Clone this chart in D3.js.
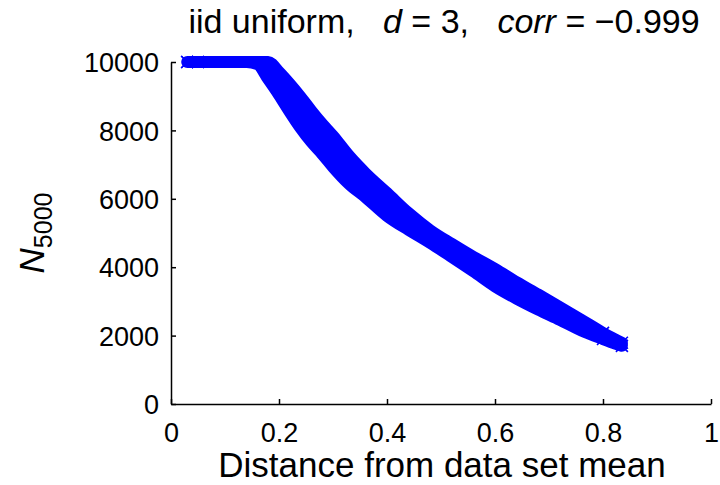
<!DOCTYPE html>
<html><head><meta charset="utf-8">
<script src="https://cdn.jsdelivr.net/npm/d3@7"></script>
<style>
html,body{margin:0;padding:0;background:#fff;}
svg{display:block;font-family:"Liberation Sans",Arial,Helvetica,sans-serif;}
</style></head>
<body>
<svg id="chart" width="720" height="485"></svg>
<script>
// distance from data set mean (x)
const distance = [0.03,0.05,0.08,0.11,0.14,0.16,0.18,0.20,0.22,0.24,0.26,0.28,0.30,0.33,0.36,0.40,0.44,0.48,0.52,0.56,0.60,0.64,0.68,0.72,0.76,0.80,0.835];
// upper envelope of the N_5000 point cloud
const nUpper = [10000,10000,10000,10000,10000,10000,10000,9710,9360,8980,8570,8190,7840,7250,6750,6170,5580,5080,4680,4300,3950,3560,3200,2830,2460,2080,1790];
// lower envelope of the N_5000 point cloud
const nLower = [10000,10000,10000,10000,10000,9940,9500,9040,8540,8070,7660,7310,6930,6430,6050,5500,5090,4710,4300,3880,3440,3080,2760,2460,2150,1900,1700];
const xTicks = [0,0.2,0.4,0.6,0.8,1];
const xTickLabels = ["0","0.2","0.4","0.6","0.8","1"];
const yTicks = [0,2000,4000,6000,8000,10000];
const yTickLabels = ["0","2000","4000","6000","8000","10000"];

const svg = d3.select("#chart");
const m = {left:171, right:9, top:62, bottom:81};
const W = 720, H = 485;
const x = d3.scaleLinear().domain([0,1]).range([m.left, W-m.right]);
const y = d3.scaleLinear().domain([0,10000]).range([H-m.bottom, m.top]);
const blue = "#0000ff";

const pts = distance.map((d,i)=>({x:d, hi:nUpper[i], lo:nLower[i]}));

// filled band (stroke width approximates the marker extent)
const area = d3.area().x(d=>x(d.x)).y0(d=>y(d.lo)).y1(d=>y(d.hi)).curve(d3.curveMonotoneX);
svg.append("path").datum(pts).attr("d", area)
  .attr("fill", blue).attr("stroke", blue).attr("stroke-width", 12).attr("stroke-linejoin","round");

// individual x markers visible at both ends of the cloud
const mk = "M-6,-6L6,6M-6,6L6,-6";
const ends = pts.filter((d,i)=> i<2 || i>=pts.length-2);
const g = svg.append("g");
["hi","lo"].forEach(k=>{
  g.selectAll(null).data(ends).enter().append("path")
    .attr("d", mk)
    .attr("transform", d=>`translate(${x(d.x)},${y(d[k])})`)
    .attr("stroke", blue).attr("stroke-width", 1.6).attr("fill","none");
});

// axes (MATLAB style, ticks inward, box off)
const xAxis = d3.axisBottom(x).tickValues(xTicks).tickFormat((d,i)=>xTickLabels[i]).tickSizeInner(-5).tickSizeOuter(0).tickPadding(12);
const yAxis = d3.axisLeft(y).tickValues(yTicks).tickFormat((d,i)=>yTickLabels[i]).tickSizeInner(-5).tickSizeOuter(0).tickPadding(12);
const gx = svg.append("g").attr("transform",`translate(0,${H-m.bottom})`).call(xAxis);
const gy = svg.append("g").attr("transform",`translate(${m.left},0)`).call(yAxis);
[gx,gy].forEach(a=>{
  a.selectAll("path,line").attr("stroke","#000").attr("stroke-width",1.5);
  a.selectAll("text").attr("fill","#000").style("font-size","27px").style("font-family","Liberation Sans, Arial, sans-serif");
});
gx.selectAll("text").attr("dy","0.95em");
gy.selectAll("text").attr("dy","0.36em");

// x label
svg.append("text").attr("x", (x(0)+x(1))/2 + 1).attr("y", 477)
  .attr("text-anchor","middle").style("font-size","35px").text("Distance from data set mean");

// y label
const yl = svg.append("text").attr("transform","translate(44,233) rotate(-90)")
  .attr("text-anchor","middle").style("font-size","35px");
yl.append("tspan").attr("font-style","italic").text("N");
yl.append("tspan").attr("dy","8").style("font-size","25px").text("5000");

// title
const t = svg.append("text").attr("x",(x(0)+x(1))/2+3).attr("y",33)
  .attr("text-anchor","middle").style("font-size","34px");
t.append("tspan").text("iid uniform,\u00a0\u00a0\u00a0");
t.append("tspan").attr("font-style","italic").text("d");
t.append("tspan").text(" = 3,\u00a0\u00a0\u00a0");
t.append("tspan").attr("font-style","italic").text("corr");
t.append("tspan").text(" = \u22120.999");
</script>
</body></html>
